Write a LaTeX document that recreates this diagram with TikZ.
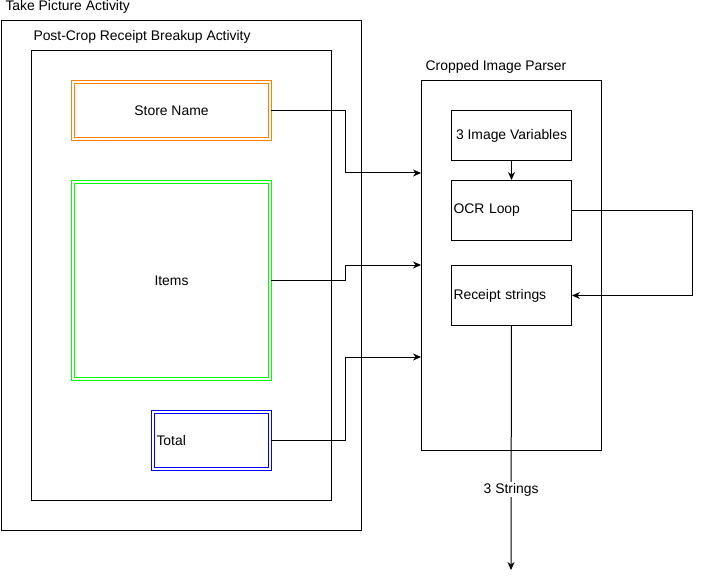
\documentclass[tikz,border=0pt]{standalone}
\usepackage{fontspec}
\setmainfont{Liberation Sans}
\usetikzlibrary{arrows.meta}
\definecolor{storeorange}{RGB}{255,128,0}
\definecolor{itemsgreen}{RGB}{0,255,0}
\definecolor{totalblue}{RGB}{0,0,255}
\tikzset{
	frame/.style={draw, rectangle, anchor=north west, inner sep=0pt},
	dblframe/.style={frame, double=white, double distance=2pt},
	lbl/.style={anchor=west, inner sep=0pt},
	conn/.style={-{Stealth[length=8pt,width=7pt]}}
}

\begin{document}
\begin{tikzpicture}[x=1pt, y=-1pt, line width=1pt, font=\fontsize{13.9}{16}\selectfont]
		\useasboundingbox (0,0) rectangle (701,580);
		% activities
		\node[frame, minimum width=360pt, minimum height=510pt] (takepic) at (1,20) {};
		\node[lbl] (takepiclbl) at (5,7) {Take Picture Activity};
		\node[frame, minimum width=300pt, minimum height=450pt] (breakup) at (31,50) {};
		\node[lbl] (breakuplbl) at (33,37) {Post-Crop Receipt Breakup Activity};
		\node[dblframe, draw=storeorange, minimum width=197pt, minimum height=57pt] (store) at (72.5,81.5) {Store Name};
		\node[dblframe, draw=itemsgreen, minimum width=197pt, minimum height=197pt] (items) at (72.5,181.5) {Items};
		\node[dblframe, draw=totalblue, text width=110pt, inner xsep=3.5pt, minimum height=57pt, align=left] (total) at (152.5,411.5) {Total};
		% parser
		\node[frame, minimum width=180pt, minimum height=370pt] (parser) at (421,80) {};
		\node[inner sep=0pt] (parserlbl) at (496,67) {Cropped Image Parser};
		\node[frame, minimum width=120pt, minimum height=50pt] (vars) at (451,110) {3 Image Variables};
		\node[frame, text width=116pt, inner xsep=2pt, minimum height=60pt, align=left] (ocr) at (451,180) {OCR Loop};
		\node[frame, text width=116pt, inner xsep=2pt, minimum height=60pt, align=left] (receipt) at (451,265) {Receipt strings};
		\coordinate (in1) at (421,173);
		\coordinate (in2) at (421,265);
		\coordinate (in3) at (421,357);
		\coordinate (out) at (511,570);
		% connectors
		\draw[conn] (store.east) -- ++(75,0) |- (in1);
		\draw[conn] (items.east) -- ++(75,0) |- (in2);
		\draw[conn] (total.east) -- ++(75,0) |- (in3);
		\draw[conn] (vars) -- (ocr);
		\draw[conn] (ocr.east) -- ++(120,0) |- (receipt.east);
		\draw[conn] (receipt) -- (out) node[pos=0.67, fill=white, inner sep=1pt] {3 Strings};
	\end{tikzpicture}
\end{document}
